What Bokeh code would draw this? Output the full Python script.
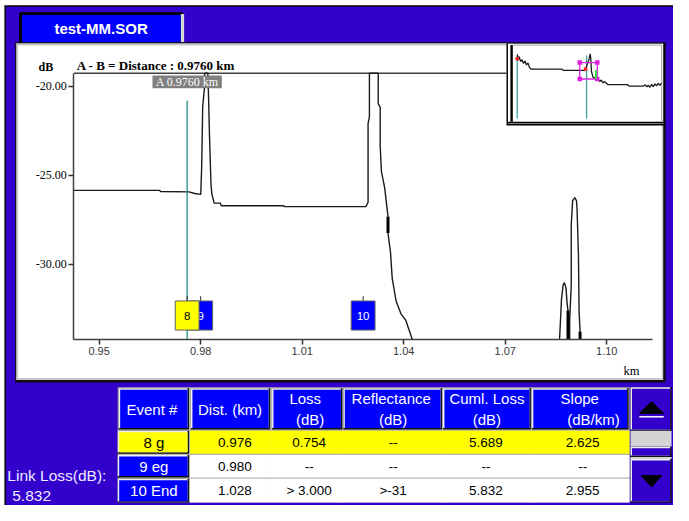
import math
from bokeh.plotting import figure
from bokeh.models import Range1d, LinearAxis, FixedTicker, PrintfTickFormatter
from bokeh.core.properties import value
from bokeh.embed import file_html
from bokeh.resources import INLINE

NAN = float("nan")

# ---------------- data ----------------
file_name = "test-MM.SOR"
cursor_a_km = 0.9760
cursor_b_km = 0.0

x_ticks = [0.95, 0.98, 1.01, 1.04, 1.07, 1.10]
y_ticks = [-30.0, -25.0, -20.0]

# main OTDR trace (visible parts only; NaN = trace below the view)
trace_km = [0.94250, 0.96789, 0.96818, 0.97655, 0.97829, 0.98002, 0.98031, 0.98059, 0.98117, 0.98117,
            0.98212, 0.98233, 0.98261, 0.98305, 0.98334, 0.98397, 0.98579, 0.98608, 1.00455, 1.00484,
            1.02880, 1.02946, 1.02946, 1.02986, 1.02986, 1.03246, 1.03246, 1.03304, 1.03304, 1.03341,
            1.03437, 1.03535, 1.03535, 1.03610, 1.03659, 1.03774, 1.03918, 1.04063, 1.04158, 1.04256,
            NAN,
            1.08603, 1.08632, 1.08661, 1.08710, 1.08747, 1.08796, 1.08825, 1.08854, 1.08854,
            NAN,
            1.08903, 1.08903, 1.08950, 1.08950, 1.08990, 1.09056, 1.09105, 1.09123, 1.09163, 1.09181,
            1.09210, 1.09210]
trace_db = [-25.85, -25.85, -25.91, -25.93, -26.02, -26.07, -24.44, -21.18, -19.98, -19.28,
            -19.28, -20.64, -22.81, -25.53, -26.07, -26.56, -26.56, -26.71, -26.71, -26.76,
            -26.76, -26.51, -22.10, -21.72, -19.28, -19.28, -21.00, -21.18, -23.35, -24.80,
            -25.71, -27.32, -28.24, -29.33, -30.78, -32.05, -32.77, -33.14, -33.68, -34.22,
            NAN,
            -34.22, -33.14, -31.96, -31.14, -31.02, -31.33, -32.14, -32.59, -34.22,
            NAN,
            -34.22, -33.14, -31.14, -27.79, -26.43, -26.25, -26.43, -26.98, -29.51, -32.59,
            -33.77, -34.22]

# overlapping (thick) trace pieces
thick_km = [1.03535, 1.08854, 1.09210]
thick_db_top = [-27.32, -32.59, -33.77]
thick_db_bot = [-28.24, -34.22, -34.22]

# events
event_ids = ["8", "9", "10"]
event_km = [0.976, 0.980, 1.028]
event_fill = ["#FFFF00", "#0000FF", "#0000FF"]
event_text_color = ["black", "white", "white"]
event_draw_order = [1, 2, 0]

# overview (inset) trace
ov_km = [0.0, 0.0137, 0.0275, 0.0481, 0.0687, 0.0893, 0.1100, 0.1306, 0.1512, 0.1718,
         0.1924, 0.6323, 0.6460, 0.9210, 0.9526, 0.9897, 1.0131, 1.0268, 1.0351, 1.0447,
         1.0680, 1.0997, 1.1368, 1.1588, 1.1821, 1.2055, 1.2275, 1.2742, 1.5491, 1.5711,
         1.7773, 1.8007, 1.8241, 1.8460, 1.8694, 1.8928, 1.9148, 1.9381, 1.9615, 1.9835,
         2.0069, 2.0302]
ov_db = [-11.81, -15.76, -14.01, -18.40, -16.64, -20.16, -17.96, -21.48, -19.72, -23.67,
         -25.17, -25.17, -26.31, -26.31, -26.57, -20.16, -15.76, -11.37, -15.76, -27.45,
         -32.72, -33.34, -34.83, -36.42, -35.10, -37.73, -36.42, -39.23, -39.23, -40.63,
         -40.63, -39.49, -41.25, -39.93, -41.69, -39.05, -41.25, -38.61, -40.37, -38.17,
         -39.93, -37.73]
ov_zoom_km = [0.880, 1.127]
ov_zoom_db = [-19.28, -34.22]
ov_red_km = [0.0, 0.962]
ov_red_db = [-15.8, -25.17]
ov_green_km = 1.107
ov_green_db = [-26.31, -34.22]

# event table
hdr_line1 = ["Event #", "Dist. (km)", "Loss", "Reflectance", "Cuml. Loss", "Slope"]
hdr_line2 = ["", "", "(dB)", "(dB)", "(dB)", "(dB/km)"]
col_event = ["8 g", "9 eg", "10 End"]
col_dist = ["0.976", "0.980", "1.028"]
col_loss = ["0.754", "--", "> 3.000"]
col_refl = ["--", "--", ">-31"]
col_cuml = ["5.689", "--", "5.832"]
col_slope = ["2.625", "--", "2.955"]
link_loss = "5.832"
selected_row = 0

# ---------------- layout / calibration (reference pixels) ----------------
W_REF, H_REF = 689, 521
W, H = 673, 505
PURPLE = "#3300CC"
BLUE = "#0000FF"
YELLOW = "#FFFF00"

KM_REF, KM_PX, PX_PER_KM = 0.95, 101.0, 519.7 / 0.15
DB_REF, DB_PY, PX_PER_DB = -20.0, 88.3, 18.4
def km_at(px): return KM_REF + (px - KM_PX) / PX_PER_KM
def db_at(py): return DB_REF - (py - DB_PY) / PX_PER_DB

OV_PX0, OV_PX_PER_KM = 529.0, 72.75
OV_PY0, OV_DB0, OV_PX_PER_DB = 64.0, -19.28, 1.138
def ovkm_at(px): return (px - OV_PX0) / OV_PX_PER_KM
def ovdb_at(py): return OV_DB0 - (py - OV_PY0) / OV_PX_PER_DB

PLOT_L, PLOT_R, PLOT_T, PLOT_B = 75, 668, 75, 350

p = figure(width=W, height=H, x_range=Range1d(0, W_REF), y_range=Range1d(H_REF, 0),
           output_backend="svg", toolbar_location=None, x_axis_location=None,
           y_axis_location=None, min_border=0, title=None)
p.extra_x_ranges = {"km": Range1d(km_at(0), km_at(W_REF)), "ov": Range1d(ovkm_at(0), ovkm_at(W_REF))}
p.extra_y_ranges = {"db": Range1d(db_at(H_REF), db_at(0)), "ovdb": Range1d(ovdb_at(H_REF), ovdb_at(0))}
p.grid.visible = False
p.outline_line_color = None
p.background_fill_color = "white"
p.border_fill_color = "white"


def box(l, r, t, b, color):
    p.quad(left=[l], right=[r], top=[t], bottom=[b], fill_color=color, line_color=None)


def txt(xs, ys, texts, size, color="black", font="Liberation Sans", align="center",
        style="normal", **kw):
    p.text(x=xs, y=ys, text=texts, text_font=value(font), text_font_size=size,
           text_color=color, text_align=align, text_baseline="middle",
           text_font_style=style, **kw)


# window background
box(4, 689, 5, 521, "black")
box(5.5, 689, 6.5, 521, PURPLE)

# tab
box(19, 187, 12, 43, "black")
box(184.5, 188, 14, 43, "#d8d8d8")
box(22, 184.5, 15, 43, BLUE)
txt([103], [29], [file_name], "15px", color="white", style="bold")

# white panel
box(15, 681, 43, 394, "#101010")
box(16, 678.5, 44, 391.5, "#c8c8c8")
box(18, 677, 46.5, 389.5, "white")

# ---------------- main chart ----------------
p.segment(x0=[PLOT_L], y0=[PLOT_T], x1=[518], y1=[PLOT_T], line_color="#404040", line_width=1.5)

p.line(x=trace_km, y=trace_db, x_range_name="km", y_range_name="db",
       line_color="#1a1a1a", line_width=1.4)
p.segment(x0=thick_km, y0=thick_db_top, x1=thick_km, y1=thick_db_bot,
          x_range_name="km", y_range_name="db", line_color="black", line_width=3)

# cursor A
p.segment(x0=[cursor_a_km], y0=[db_at(103.3)], x1=[cursor_a_km], y1=[db_at(PLOT_B)],
          x_range_name="km", y_range_name="db", line_color="#1e8c8c", line_width=1.3)

# event markers
p.segment(x0=event_km, y0=[305] * 3, x1=event_km, y1=[310] * 3, x_range_name="km",
          line_color="#303030", line_width=1)
for i in event_draw_order:
    p.rect(x=[event_km[i]], y=[325], width=24.4 / PX_PER_KM, height=30, x_range_name="km",
           fill_color=event_fill[i], line_color="#606060", line_width=1)
    txt([event_km[i]], [325], [event_ids[i]], "11.5px", color=event_text_color[i],
        x_range_name="km")

# cursor label
p.rect(x=[cursor_a_km], y=[84], width=71 / PX_PER_KM, height=13, x_range_name="km",
       fill_color="#808080", line_color=None)
txt([cursor_a_km], [84.5], ["A %.4f km" % cursor_a_km], "12px", color="white",
    font="Liberation Serif", x_range_name="km")

txt([78], [67], ["A - B = Distance : %.4f km" % (cursor_a_km - cursor_b_km)], "13px",
    font="Liberation Serif", align="left", style="bold")
txt([46.5], [69], ["dB"], "12px", font="Liberation Serif", style="bold")
txt([646], [382], ["km"], "12.5px", font="Liberation Serif")

xaxis = LinearAxis(x_range_name="km", y_range_name="db", fixed_location=db_at(PLOT_B),
                   bounds=(km_at(PLOT_L), km_at(PLOT_R)), ticker=FixedTicker(ticks=x_ticks),
                   formatter=PrintfTickFormatter(format="%.2f"))
yaxis = LinearAxis(x_range_name="km", y_range_name="db", fixed_location=km_at(PLOT_L),
                   bounds=(db_at(PLOT_B), db_at(PLOT_T)), ticker=FixedTicker(ticks=y_ticks),
                   formatter=PrintfTickFormatter(format="%.2f"))
for ax, font, col, size in [(xaxis, "Liberation Sans", "#383838", "11px"),
                            (yaxis, "Liberation Serif", "black", "12px")]:
    ax.axis_line_color = "#404040"
    ax.axis_line_width = 1.5
    ax.major_tick_line_color = "#303030"
    ax.major_tick_line_width = 1.5
    ax.major_tick_out = 5
    ax.major_tick_in = 0
    ax.minor_tick_line_color = None
    ax.major_label_standoff = 2
    ax.major_label_text_font = font
    ax.major_label_text_font_size = size
    ax.major_label_text_color = col
p.add_layout(xaxis, "below")
p.add_layout(yaxis, "left")

# ---------------- overview inset ----------------
box(518, 680, 44, 129, "black")
box(519.5, 678.5, 44.5, 127, "white")
box(519.5, 678.5, 125, 126.3, "black")
box(522, 524.5, 46, 125, "black")
p.segment(x0=[524.5, 677], y0=[46, 46], x1=[677, 677], y1=[46, 125], line_color="#a0a0a0", line_width=1)

p.segment(x0=[cursor_b_km, cursor_a_km], y0=[ovdb_at(56.7)] * 2, x1=[cursor_b_km, cursor_a_km],
          y1=[ovdb_at(121.7)] * 2, x_range_name="ov", y_range_name="ovdb",
          line_color="#3aa0a0", line_width=1.3)
p.line(x=ov_km, y=ov_db, x_range_name="ov", y_range_name="ovdb", line_color="#1a1a1a", line_width=1.3)
p.quad(left=[ov_zoom_km[0]], right=[ov_zoom_km[1]], top=[ov_zoom_db[0]], bottom=[ov_zoom_db[1]],
       x_range_name="ov", y_range_name="ovdb", fill_color=None, line_color="#e020e0", line_width=1.3)
p.scatter(x=[ov_zoom_km[0], ov_zoom_km[1], ov_zoom_km[0], ov_zoom_km[1]],
          y=[ov_zoom_db[0], ov_zoom_db[0], ov_zoom_db[1], ov_zoom_db[1]],
          x_range_name="ov", y_range_name="ovdb", marker="square", size=4.5,
          fill_color="#e020e0", line_color=None)
p.scatter(x=ov_red_km, y=ov_red_db, x_range_name="ov", y_range_name="ovdb", marker="square",
          size=3.5, fill_color="#ff2020", line_color=None)
p.segment(x0=[ov_green_km], y0=[ov_green_db[0]], x1=[ov_green_km], y1=[ov_green_db[1]],
          x_range_name="ov", y_range_name="ovdb", line_color="#30e030", line_width=2)

# ---------------- event table ----------------
COL_L = [121, 195, 278, 351, 453, 544]
COL_R = [193, 276, 350, 452, 543, 643]
HDR_T, HDR_B = 400, 442.5
ROW_T = [444, 469, 493.5]
ROW_B = [467.5, 492, 518]
HDR_CX1 = [155, 235, 312, 400, 498, 593]
HDR_CX2 = [155, 235, 317, 402, 498, 607]
CELL_CX = [157, 240, 316, 402, 497, 596]

box(120, 644, 399, 518, "#b4b4b4")


def bevel(l, r, t, b, fill):
    box(l, r, t, b, "#101010")
    box(l, r - 1.5, t, b - 1.5, "#f0f0f0")
    box(l + 1.5, r - 1.5, t + 1.5, b - 1.5, fill)


for c in range(6):
    bevel(COL_L[c], COL_R[c], HDR_T, HDR_B, BLUE)
    if hdr_line2[c]:
        txt([HDR_CX1[c]], [410.7], [hdr_line1[c]], "15px", color="white")
        txt([HDR_CX2[c]], [432.7], [hdr_line2[c]], "15px", color="white")
    else:
        txt([HDR_CX1[c]], [421.7], [hdr_line1[c]], "15px", color="white")

columns = [col_event, col_dist, col_loss, col_refl, col_cuml, col_slope]
for r in range(3):
    sel = (r == selected_row)
    bevel(COL_L[0] - 1, COL_R[0], ROW_T[r], ROW_B[r], YELLOW if sel else BLUE)
    for c in range(1, 6):
        box(COL_L[c] - 1, COL_R[c] + 1, ROW_T[r], ROW_B[r], YELLOW if sel else "white")
    cy = (ROW_T[r] + ROW_B[r]) / 2
    txt([CELL_CX[0]], [cy], [col_event[r]], "15px", color="black" if sel else "white")
    txt(CELL_CX[1:], [cy] * 5, [columns[c][r] for c in range(1, 6)], "13.5px", color="black")

# scroll widget
bevel(645, 687, 399, 444, PURPLE)
box(645, 687, 444, 460.5, "#d4d4d4")
bevel(645, 687, 460.5, 471, PURPLE)
box(645, 687, 471, 473, "#d4d4d4")
bevel(645, 687, 473, 518, PURPLE)
p.patches(xs=[[654, 679, 666.5], [656, 677, 666.5]], ys=[[426, 426, 414], [490, 490, 502]],
          fill_color="black", line_color="black")
p.segment(x0=[654], y0=[429.5], x1=[679], y1=[429.5], line_color="white", line_width=1.5)

# link loss
txt([7], [490], ["Link Loss(dB):"], "15.5px", color="#ececff", align="left")
txt([12], [511.5], [link_loss], "15.5px", color="#ececff", align="left")

open("out.html", "w").write(file_html(p, INLINE))
